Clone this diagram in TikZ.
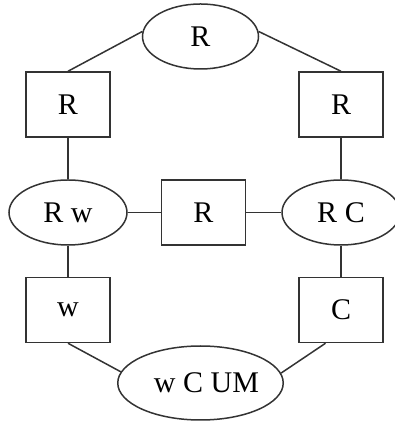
\documentclass[tikz,border=0pt]{standalone}
\usepackage{fontspec}
\setmainfont{Liberation Serif}
\usetikzlibrary{shapes.geometric}

\begin{document}
\begin{tikzpicture}[
		x=1pt, y=1pt,
		every node/.style={font=\fontsize{30}{34}\selectfont, inner sep=0pt},
		box/.style={draw=black!80, line width=1.5pt, rectangle, minimum width=84pt, minimum height=65pt},
		oval/.style={draw=black!80, line width=1.5pt, ellipse, minimum width=118pt, minimum height=65pt},
		link/.style={draw=black!80, line width=1.5pt},
	]
		\useasboundingbox (0,0) rectangle (395,425);
		\node (top) [oval, minimum width=116pt] at (200.5,388.5) {R};
		\node (lr) [box] at (68,320.5) {R};
		\node (rr) [box] at (341,320.5) {R};
		\node (rw) [oval] at (68,212.5) {R w};
		\node (mid) [box] at (203.5,212.5) {R};
		\node (rc) [oval] at (341,212.5) {R C};
		\node (w) [box] at (68,115) {w};
		\node (c) [box] at (341,115) {C};
		\node (wcum) [oval, minimum width=162pt, minimum height=74pt] at (200.5,42) {\hspace{12pt}w C UM};
		
		\draw[link] (top.175) -- (lr.north);
		\draw[link] (top.5) -- (rr.north);
		\draw[link] (lr) -- (rw);
		\draw[link] (rr) -- (rc);
		\draw[link] (rw) -- (mid);
		\draw[link] (mid) -- (rc);
		\draw[link] (rw) -- (w);
		\draw[link] (rc) -- (c);
		\draw[link] (w.south) -- (wcum.172);
		\draw[link] (c.-115) -- (wcum.7);
	\end{tikzpicture}
\end{document}
